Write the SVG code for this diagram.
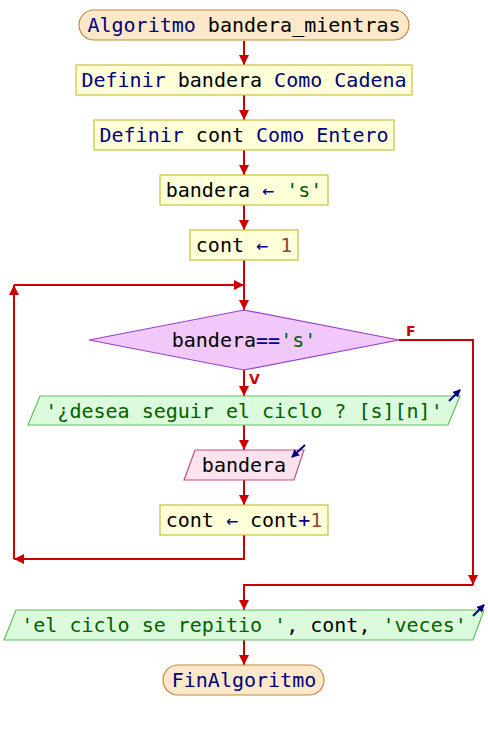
<svg xmlns="http://www.w3.org/2000/svg" width="488" height="730" viewBox="0 0 488 730">
<defs>
<marker id="ah" markerUnits="userSpaceOnUse" markerWidth="12" markerHeight="12" refX="10" refY="5" orient="auto">
<path d="M0,0 L10,5 L0,10 Z" fill="#cc0000"/>
</marker>
<marker id="bh" markerUnits="userSpaceOnUse" markerWidth="10" markerHeight="10" refX="7" refY="4" orient="auto">
<path d="M0,0 L8,4 L0,8 Z" fill="#000080"/>
</marker>
</defs>
<style>
text{font-family:"DejaVu Sans Mono","Liberation Mono",monospace;font-size:20px;text-anchor:middle}
.term{fill:#fde9c9;stroke:#c08840;stroke-width:1.2}
.proc{fill:#ffffd8;stroke:#c8c040;stroke-width:1.2}
.dec{fill:#f0c8fa;stroke:#9a40c8;stroke-width:1.2}
.out{fill:#dcfadc;stroke:#60c060;stroke-width:1.2}
.inp{fill:#fce2ee;stroke:#c05080;stroke-width:1.2}
.kw{fill:#000080}
.id{fill:#000000}
.op{fill:#000080}
.str{fill:#006000}
.num{fill:#904838}
.c{fill:none;stroke:#cc0000;stroke-width:2}
.ic{fill:none;stroke:#000080;stroke-width:2}
.lbl{font-family:"DejaVu Sans","Liberation Sans",sans-serif;font-size:14px;font-weight:bold;fill:#cc0000;text-anchor:start}
</style>
<g id="connectors">
<path class="c" d="M244,41 V65" marker-end="url(#ah)"/>
<path class="c" d="M244,95 V120" marker-end="url(#ah)"/>
<path class="c" d="M244,150 V175" marker-end="url(#ah)"/>
<path class="c" d="M244,205 V230" marker-end="url(#ah)"/>
<path class="c" d="M244,260 V310" marker-end="url(#ah)"/>
<path class="c" d="M244,370 V396" marker-end="url(#ah)"/>
<path class="c" d="M244,425 V450" marker-end="url(#ah)"/>
<path class="c" d="M244,480 V505" marker-end="url(#ah)"/>
<path class="c" d="M244,535 V559 H14" marker-end="url(#ah)"/>
<path class="c" d="M14,559 V285" marker-end="url(#ah)"/>
<path class="c" d="M14,285 H244" marker-end="url(#ah)"/>
<path class="c" d="M399,340 H473 V585" marker-end="url(#ah)"/>
<path class="c" d="M473,585 H244 V610" marker-end="url(#ah)"/>
<path class="c" d="M244,640 V665" marker-end="url(#ah)"/>
<text class="lbl" x="406" y="336">F</text>
<text class="lbl" x="249" y="384">V</text>
</g>
<g id="start">
<rect class="term" x="79" y="10" width="330" height="30" rx="15"/>
<text x="244" y="32"><tspan class="kw">Algoritmo</tspan><tspan class="id"> bandera_mientras</tspan></text>
</g>
<g id="def1">
<rect class="proc" x="76" y="65" width="336" height="30"/>
<text x="244" y="87"><tspan class="kw">Definir</tspan><tspan class="id"> bandera </tspan><tspan class="kw">Como Cadena</tspan></text>
</g>
<g id="def2">
<rect class="proc" x="94" y="120" width="300" height="30"/>
<text x="244" y="142"><tspan class="kw">Definir</tspan><tspan class="id"> cont </tspan><tspan class="kw">Como Entero</tspan></text>
</g>
<g id="assign1">
<rect class="proc" x="160" y="175" width="168" height="30"/>
<text x="244" y="197"><tspan class="id">bandera </tspan><tspan class="op">←</tspan><tspan class="id"> </tspan><tspan class="str">'s'</tspan></text>
</g>
<g id="assign2">
<rect class="proc" x="190" y="230" width="108" height="30"/>
<text x="244" y="252"><tspan class="id">cont </tspan><tspan class="op">←</tspan><tspan class="id"> </tspan><tspan class="num">1</tspan></text>
</g>
<g id="cond">
<polygon class="dec" points="244,310 399,340 244,370 89,340"/>
<text x="244" y="347"><tspan class="id">bandera</tspan><tspan class="op">==</tspan><tspan class="str">'s'</tspan></text>
</g>
<g id="out1">
<polygon class="out" points="40,396 460,396 448,425 28,425"/>
<text x="244" y="418"><tspan class="str">'¿desea seguir el ciclo ? [s][n]'</tspan></text>
<path class="ic" d="M449,401 L460,390" marker-end="url(#bh)"/>
</g>
<g id="in1">
<polygon class="inp" points="195,450 304,450 294,480 184,480"/>
<text x="244" y="472"><tspan class="id">bandera</tspan></text>
<path class="ic" d="M305,445 L292,457" marker-end="url(#bh)"/>
</g>
<g id="assign3">
<rect class="proc" x="160" y="505" width="168" height="30"/>
<text x="244" y="527"><tspan class="id">cont </tspan><tspan class="op">←</tspan><tspan class="id"> cont</tspan><tspan class="op">+</tspan><tspan class="num">1</tspan></text>
</g>
<g id="out2">
<polygon class="out" points="16,610 484,610 473,640 4,640"/>
<text x="244" y="632"><tspan class="str">'el ciclo se repitio '</tspan><tspan class="id">, cont, </tspan><tspan class="str">'veces'</tspan></text>
<path class="ic" d="M473,616 L484,605" marker-end="url(#bh)"/>
</g>
<g id="end">
<rect class="term" x="163" y="665" width="161" height="30" rx="15"/>
<text x="244" y="687"><tspan class="kw">FinAlgoritmo</tspan></text>
</g>
</svg>
